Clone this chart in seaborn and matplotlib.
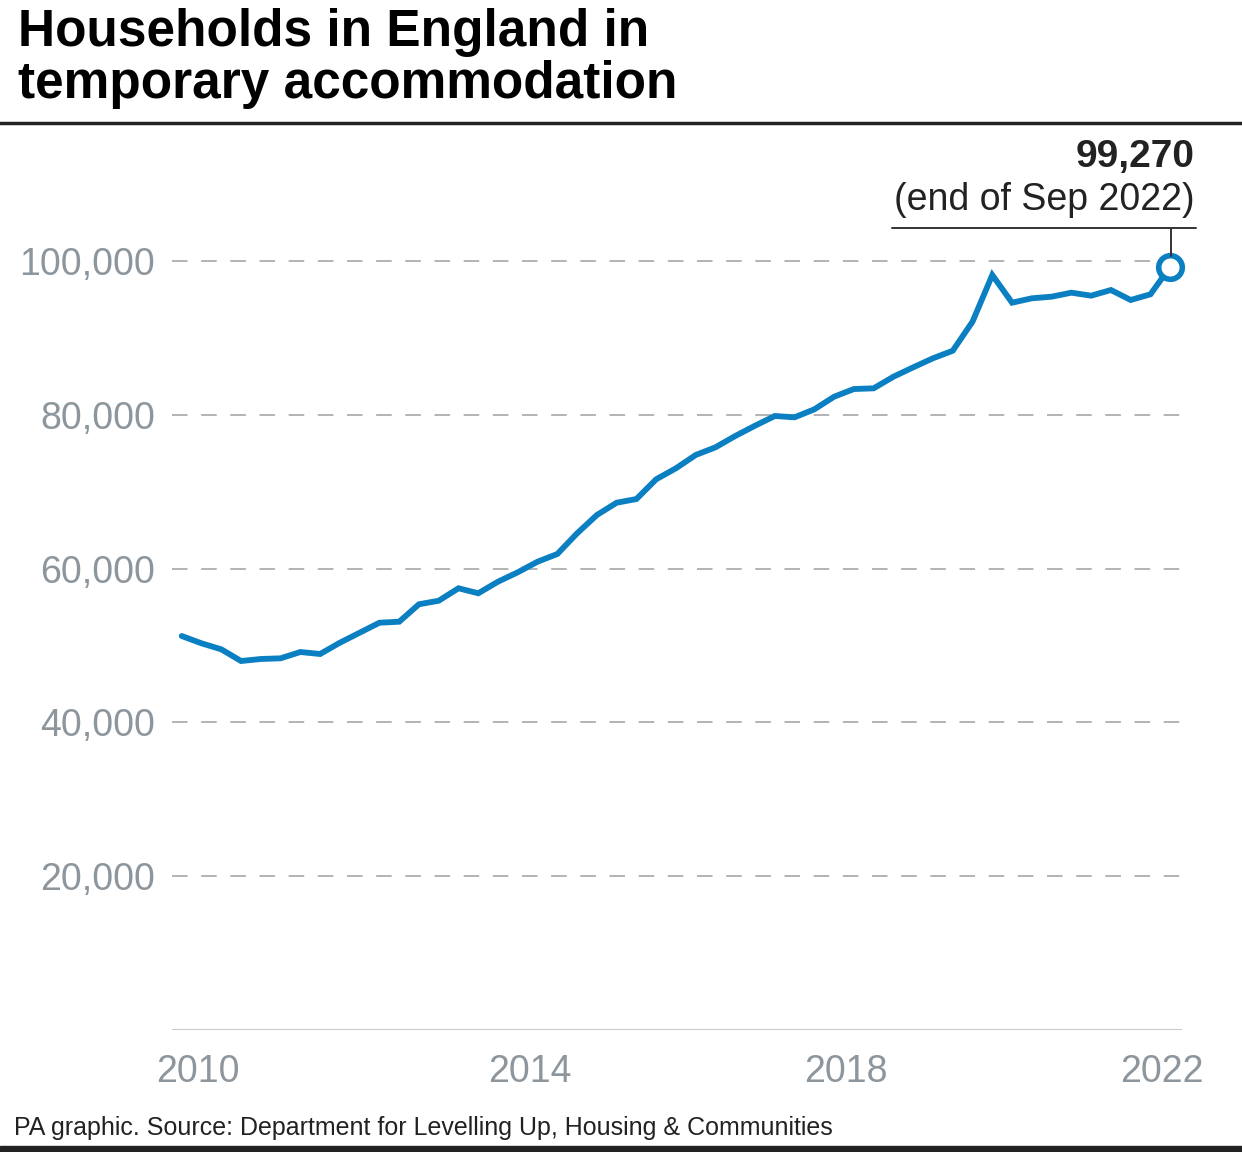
import pandas as pd
import matplotlib.pyplot as plt
import seaborn as sns

# Households in temporary accommodation, end of each quarter (Q1 2010 - Q3 2022)
quarters = pd.period_range("2010Q1", "2022Q3", freq="Q")
households = [
    51250, 50300, 49520, 48000,
    48260, 48350, 49170, 48910,
    50380, 51680, 52980, 53110,
    55380, 55840, 57460, 56810,
    58320, 59540, 60920, 61920,
    64610, 66990, 68590, 69070,
    71640, 73070, 74800, 75800,
    77270, 78610, 79870, 79700,
    80740, 82380, 83380, 83470,
    84980, 86200, 87380, 88360,
    92140, 98210, 94610, 95180,
    95390, 95910, 95520, 96260,
    94960, 95700, 99270,
]
year_labels = ["2010", "2014", "2018", "2022"]
y_ticks = [20000, 40000, 60000, 80000, 100000]

title = "Households in England in\ntemporary accommodation"
last_value = "99,270"
last_label = "(end of Sep 2022)"
source = "PA graphic. Source: Department for Levelling Up, Housing & Communities"

BLUE = "#0a7fc1"
GREY_TXT = "#8d969d"
GRID = "#b3b3b3"

df = pd.DataFrame({
    "t": [q.year + (q.quarter - 1) / 4 for q in quarters],
    "households": households,
})

sns.set_style("white")
plt.rcParams["font.family"] = ["Liberation Sans", "DejaVu Sans"]

fig = plt.figure(figsize=(12.42, 11.52), dpi=100)
ax = fig.add_axes([172 / 1242, 1 - 1030 / 1152, 1010 / 1242, 800 / 1152])

sns.lineplot(data=df, x="t", y="households", ax=ax, color=BLUE, linewidth=4.2,
             solid_joinstyle="miter")

# end point marker
last = df.iloc[-1]
ax.plot(last["t"], last["households"], "o", ms=17, mfc="white", mec=BLUE,
        mew=4.0, zorder=5, clip_on=False)

ax.set_xlim(2009.877, 2022.649)
ax.set_ylim(0, 104065)

for v in y_ticks:
    ax.axhline(v, color=GRID, lw=1.4, dashes=(8, 7), zorder=0)
ax.axhline(0, color="#c9c9c9", lw=2.2, zorder=0)

ax.set_yticks(y_ticks)
ax.set_yticklabels([f"{v:,}" for v in y_ticks], fontsize=27, color=GREY_TXT)
ax.set_xticks([2010.2, 2014.4, 2018.4, 2022.4])
ax.set_xticklabels(year_labels, fontsize=27, color=GREY_TXT)
ax.tick_params(axis="y", length=0, pad=12)
ax.tick_params(axis="x", length=0, pad=17)
ax.set_xlabel("")
ax.set_ylabel("")
sns.despine(ax=ax, left=True, bottom=True)

# annotation for the latest value
fig.text(1195 / 1242, 1 - 157 / 1152, last_value, ha="right", va="center",
         fontsize=28, fontweight="bold", color="#222222")
fig.text(1195 / 1242, 1 - 200 / 1152, last_label, ha="right", va="center",
         fontsize=27, color="#222222")
fig.add_artist(plt.Line2D([892 / 1242, 1196 / 1242], [1 - 228 / 1152] * 2,
                          color="#333333", lw=1.4))
fig.add_artist(plt.Line2D([1171 / 1242] * 2, [1 - 228 / 1152, 1 - 256 / 1152],
                          color="#333333", lw=1.4))

# title and rules
fig.text(18 / 1242, 1 - 8 / 1152, title, ha="left", va="top", fontsize=37,
         fontweight="bold", color="black", linespacing=1.08)
fig.add_artist(plt.Line2D([0, 1], [1 - 123 / 1152] * 2, color="#222222", lw=2.5))
fig.text(14 / 1242, 1 - 1128 / 1152, source, ha="left", va="center",
         fontsize=18, color="#222222")
fig.add_artist(plt.Rectangle((0, 0), 1, 6 / 1152, color="#222222",
                             transform=fig.transFigure))

fig.savefig("out.png", dpi=100, facecolor="white")
